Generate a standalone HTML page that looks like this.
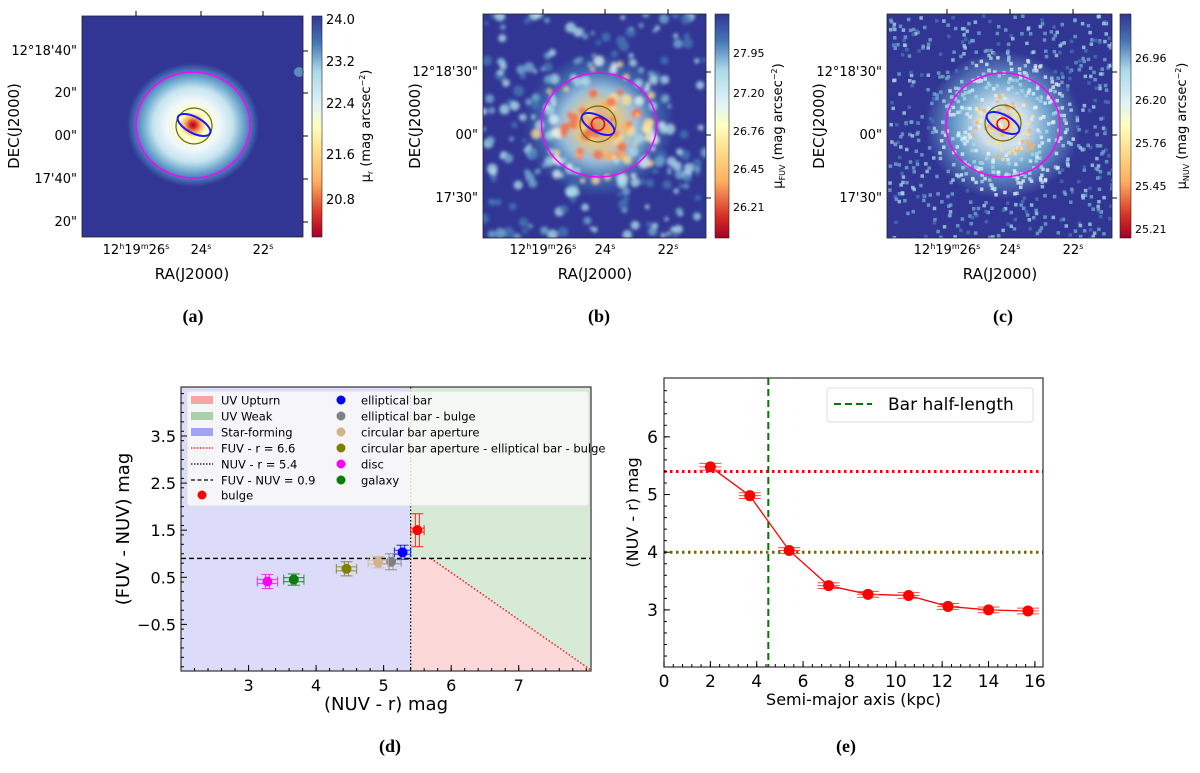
<!DOCTYPE html>
<html><head><meta charset="utf-8"><style>
body{margin:0;background:#fff;width:1200px;height:768px;overflow:hidden}
svg text{font-family:"DejaVu Sans","Liberation Sans",sans-serif;fill:#000}
.cap{font-family:"Liberation Serif",serif;font-weight:bold;font-size:18px}
</style></head><body>
<svg id="fig" width="1200" height="768" viewBox="0 0 1200 768" xmlns="http://www.w3.org/2000/svg">
<defs>
<radialGradient id="ga" cx="0.5" cy="0.5" r="0.5">
<stop offset="0" stop-color="#a50026"/><stop offset="0.05" stop-color="#d73027"/><stop offset="0.12" stop-color="#fdae61"/><stop offset="0.2" stop-color="#ffffbf"/><stop offset="0.4" stop-color="#f0f8fb"/><stop offset="0.6" stop-color="#c6e4ef"/><stop offset="0.75" stop-color="#74add1"/><stop offset="0.88" stop-color="#4575b4"/><stop offset="1" stop-color="#313695"/></radialGradient>
<radialGradient id="gb" cx="0.5" cy="0.5" r="0.5">
<stop offset="0" stop-color="#fdae61"/><stop offset="0.3" stop-color="#fee090"/><stop offset="0.5" stop-color="#abd9e9"/><stop offset="0.75" stop-color="#4575b4"/><stop offset="1" stop-color="#313695"/></radialGradient>
<radialGradient id="gc" cx="0.5" cy="0.5" r="0.5">
<stop offset="0" stop-color="#fee090"/><stop offset="0.3" stop-color="#e0f3f8"/><stop offset="0.6" stop-color="#74add1"/><stop offset="1" stop-color="#313695"/></radialGradient>
<linearGradient id="cb" x1="0" y1="1" x2="0" y2="0">
<stop offset="0" stop-color="#a50026"/><stop offset="0.1" stop-color="#d73027"/><stop offset="0.25" stop-color="#fdae61"/><stop offset="0.4" stop-color="#fee090"/><stop offset="0.5" stop-color="#ffffbf"/><stop offset="0.6" stop-color="#e0f3f8"/><stop offset="0.75" stop-color="#abd9e9"/><stop offset="0.88" stop-color="#4575b4"/><stop offset="1" stop-color="#313695"/></linearGradient>
<clipPath id="cpb"><rect x="483" y="14" width="223" height="224"/></clipPath>
<clipPath id="cpc"><rect x="887" y="14" width="225" height="224"/></clipPath>
<filter id="bl"><feGaussianBlur stdDeviation="1.6"/></filter>
</defs>

<!-- Panel a -->
<g>
<rect x="82" y="16" width="221" height="221" fill="#313695"/>
<ellipse cx="193" cy="125" rx="66" ry="62" fill="url(#ga)"/>
<circle cx="299" cy="72" r="5" fill="#74add1" opacity="0.7"/>
<ellipse cx="193" cy="125" rx="57" ry="53" fill="none" stroke="#ff00ff" stroke-width="1.5"/>
<circle cx="194" cy="126" r="18" fill="none" stroke="#6b6b00" stroke-width="1.2"/>
<ellipse cx="194" cy="125" rx="18" ry="8" transform="rotate(28 194 125)" fill="none" stroke="#1a1aff" stroke-width="2"/>
<rect x="82" y="16" width="221" height="221" fill="none" stroke="#222" stroke-width="0.8"/>
<g stroke="#000" stroke-width="1">
<line x1="136" y1="16" x2="136" y2="11"/><line x1="201" y1="16" x2="201" y2="11"/><line x1="263" y1="16" x2="263" y2="11"/>
<line x1="303" y1="51" x2="308" y2="51"/><line x1="303" y1="93" x2="308" y2="93"/><line x1="303" y1="136" x2="308" y2="136"/><line x1="303" y1="179" x2="308" y2="179"/><line x1="303" y1="222" x2="308" y2="222"/>
</g>
<rect x="312" y="16" width="10" height="221" fill="url(#cb)" stroke="#222" stroke-width="0.6"/>
<g font-size="13">
<text x="326" y="24">24.0</text><text x="326" y="66">23.2</text><text x="326" y="108">22.4</text><text x="326" y="159">21.6</text><text x="326" y="204">20.8</text>
<text x="77" y="55" text-anchor="end">12°18'40"</text><text x="77" y="97" text-anchor="end">20"</text><text x="77" y="140" text-anchor="end">00"</text><text x="77" y="183" text-anchor="end">17'40"</text><text x="77" y="226" text-anchor="end">20"</text>
<text x="136" y="254" text-anchor="middle">12<tspan font-size="8" dy="-5">h</tspan><tspan dy="5">19</tspan><tspan font-size="8" dy="-5">m</tspan><tspan dy="5">26</tspan><tspan font-size="8" dy="-5">s</tspan></text>
<text x="201" y="254" text-anchor="middle">24<tspan font-size="8" dy="-5">s</tspan></text>
<text x="263" y="254" text-anchor="middle">22<tspan font-size="8" dy="-5">s</tspan></text>
</g>
<text x="192" y="279" font-size="15" text-anchor="middle">RA(J2000)</text>
<text transform="translate(19 126) rotate(-90)" font-size="15" text-anchor="middle">DEC(J2000)</text>
<text transform="translate(370 126) rotate(-90)" font-size="13" text-anchor="middle">μ<tspan font-size="8" dy="3">r</tspan><tspan dy="-3"> (mag arcsec</tspan><tspan font-size="8" dy="-5">−2</tspan><tspan dy="5">)</tspan></text>
<text class="cap" x="193" y="322" text-anchor="middle">(a)</text>
</g>

<!-- Panel b -->
<g>
<rect x="483" y="14" width="223" height="224" fill="#313695"/>
<g clip-path="url(#cpb)"><g id="noiseb" filter="url(#bl)"></g></g>
<ellipse cx="599" cy="125" rx="57.5" ry="52" fill="none" stroke="#ff00ff" stroke-width="1.5"/>
<circle cx="598" cy="124" r="18" fill="none" stroke="#6b6b00" stroke-width="1.2"/>
<ellipse cx="598" cy="124" rx="18" ry="8" transform="rotate(28 598 124)" fill="none" stroke="#1a1aff" stroke-width="2"/>
<circle cx="598" cy="124" r="6.5" fill="none" stroke="#e00" stroke-width="1.5"/>
<rect x="483" y="14" width="223" height="224" fill="none" stroke="#222" stroke-width="0.8"/>
<g stroke="#000" stroke-width="1">
<line x1="543" y1="14" x2="543" y2="9"/><line x1="605" y1="14" x2="605" y2="9"/><line x1="668" y1="14" x2="668" y2="9"/>
<line x1="706" y1="72" x2="711" y2="72"/><line x1="706" y1="135" x2="711" y2="135"/><line x1="706" y1="198" x2="711" y2="198"/>
</g>
<rect x="715" y="14" width="14" height="224" fill="url(#cb)" stroke="#222" stroke-width="0.6"/>
<g font-size="11">
<text x="733" y="57">27.95</text><text x="733" y="97">27.20</text><text x="733" y="135">26.76</text><text x="733" y="173">26.45</text><text x="733" y="211">26.21</text>
</g>
<g font-size="13">
<text x="478" y="76" text-anchor="end">12°18'30"</text><text x="478" y="139" text-anchor="end">00"</text><text x="478" y="202" text-anchor="end">17'30"</text>
<text x="543" y="254" text-anchor="middle">12<tspan font-size="8" dy="-5">h</tspan><tspan dy="5">19</tspan><tspan font-size="8" dy="-5">m</tspan><tspan dy="5">26</tspan><tspan font-size="8" dy="-5">s</tspan></text>
<text x="605" y="254" text-anchor="middle">24<tspan font-size="8" dy="-5">s</tspan></text>
<text x="668" y="254" text-anchor="middle">22<tspan font-size="8" dy="-5">s</tspan></text>
</g>
<text x="595" y="279" font-size="15" text-anchor="middle">RA(J2000)</text>
<text transform="translate(420 126) rotate(-90)" font-size="15" text-anchor="middle">DEC(J2000)</text>
<text transform="translate(782 126) rotate(-90)" font-size="13" text-anchor="middle">μ<tspan font-size="8" dy="3">FUV</tspan><tspan dy="-3"> (mag arcsec</tspan><tspan font-size="8" dy="-5">−2</tspan><tspan dy="5">)</tspan></text>
<text class="cap" x="599" y="322" text-anchor="middle">(b)</text>
</g>

<!-- Panel c -->
<g>
<rect x="887" y="14" width="225" height="224" fill="#313695"/>
<g clip-path="url(#cpc)" id="noisec"></g>
<ellipse cx="1003" cy="125" rx="57" ry="52" fill="none" stroke="#ff00ff" stroke-width="1.5"/>
<circle cx="1003" cy="123" r="18" fill="none" stroke="#6b6b00" stroke-width="1.2"/>
<ellipse cx="1003" cy="123" rx="18" ry="8" transform="rotate(28 1003 123)" fill="none" stroke="#1a1aff" stroke-width="2"/>
<circle cx="1003" cy="124" r="6" fill="none" stroke="#e00" stroke-width="1.5"/>
<rect x="887" y="14" width="225" height="224" fill="none" stroke="#222" stroke-width="0.8"/>
<g stroke="#000" stroke-width="1">
<line x1="947" y1="14" x2="947" y2="9"/><line x1="1010" y1="14" x2="1010" y2="9"/><line x1="1073" y1="14" x2="1073" y2="9"/>
<line x1="1112" y1="72" x2="1117" y2="72"/><line x1="1112" y1="135" x2="1117" y2="135"/><line x1="1112" y1="198" x2="1117" y2="198"/>
</g>
<rect x="1120" y="14" width="11" height="224" fill="url(#cb)" stroke="#222" stroke-width="0.6"/>
<g font-size="11">
<text x="1135" y="62">26.96</text><text x="1135" y="104">26.20</text><text x="1135" y="147">25.76</text><text x="1135" y="190">25.45</text><text x="1135" y="233">25.21</text>
</g>
<g font-size="13">
<text x="882" y="76" text-anchor="end">12°18'30"</text><text x="882" y="139" text-anchor="end">00"</text><text x="882" y="202" text-anchor="end">17'30"</text>
<text x="947" y="254" text-anchor="middle">12<tspan font-size="8" dy="-5">h</tspan><tspan dy="5">19</tspan><tspan font-size="8" dy="-5">m</tspan><tspan dy="5">26</tspan><tspan font-size="8" dy="-5">s</tspan></text>
<text x="1010" y="254" text-anchor="middle">24<tspan font-size="8" dy="-5">s</tspan></text>
<text x="1073" y="254" text-anchor="middle">22<tspan font-size="8" dy="-5">s</tspan></text>
</g>
<text x="1000" y="279" font-size="15" text-anchor="middle">RA(J2000)</text>
<text transform="translate(824 126) rotate(-90)" font-size="15" text-anchor="middle">DEC(J2000)</text>
<text transform="translate(1186 126) rotate(-90)" font-size="13" text-anchor="middle">μ<tspan font-size="8" dy="3">NUV</tspan><tspan dy="-3"> (mag arcsec</tspan><tspan font-size="8" dy="-5">−2</tspan><tspan dy="5">)</tspan></text>
<text class="cap" x="1003" y="322" text-anchor="middle">(c)</text>
</g>

<g id="pd"></g>
<g id="pe"></g>
<text class="cap" x="390" y="752" text-anchor="middle">(d)</text>
<text class="cap" x="846" y="752" text-anchor="middle">(e)</text>
</svg>
<script>
// Panel d data
const dNames = ["elliptical bar","elliptical bar - bulge","circular bar aperture","circular bar aperture - elliptical bar - bulge","disc","galaxy","bulge"];
const dColors = ["#0000ff","#808080","#d2b48c","#808000","#ff00ff","#008000","#ff0000"];
const dNUVr = [5.28,5.11,4.92,4.45,3.28,3.67,5.5];
const dFUVNUV = [1.03,0.83,0.82,0.68,0.41,0.45,1.5];
const dXerr = [0.12,0.15,0.15,0.15,0.15,0.15,0.1];
const dYerr = [0.15,0.17,0.12,0.15,0.15,0.12,0.35];
const dXTicks = [3,4,5,6,7];
const dYTicks = [-0.5,0.5,1.5,2.5,3.5];
const dFUVr = 6.6, dNUVrCut = 5.4, dFUVNUVCut = 0.9;
// Panel e data
const eSMA = [2,3.7,5.4,7.1,8.8,10.55,12.25,14,15.7];
const eColor = [5.48,4.98,4.03,3.42,3.27,3.25,3.06,3.0,2.98];
const eErr = [0.06,0.05,0.05,0.05,0.05,0.05,0.05,0.05,0.05];
const eXTicks = [0,2,4,6,8,10,12,14,16];
const eYTicks = [3,4,5,6];
const eBarHalf = 4.5, eLineRed = 5.4, eLineOlive = 4.0;

const NS="http://www.w3.org/2000/svg";
function mk(p,tag,at){const e=document.createElementNS(NS,tag);for(const k in at)e.setAttribute(k,at[k]);p.appendChild(e);return e;}

// noise texture for b, c (decorative)
let seed=7;function rnd(){seed=(seed*16807)%2147483647;return seed/2147483647;}
(function(){
 const gb=document.getElementById('noiseb');
 mk(gb,'ellipse',{cx:599,cy:125,rx:75,ry:72,fill:'url(#gb)',opacity:0.85});
 for(let i=0;i<450;i++){const x=483+rnd()*223,y=14+rnd()*224;const r=Math.hypot(x-599,y-125);
  let c;
  if(r<40) c=rnd()<0.55?'#f46d43':(rnd()<0.5?'#fdae61':'#fee090');
  else if(r<65) c=rnd()<0.5?'#abd9e9':(rnd()<0.4?'#fee090':'#e0f3f8');
  else { if(rnd()<0.45) continue; c=rnd()<0.4?'#74add1':(rnd()<0.5?'#4575b4':'#abd9e9'); }
  mk(gb,'circle',{cx:x,cy:y,r:2+rnd()*3.5,fill:c,opacity:0.8});}
 const gc=document.getElementById('noisec');
 mk(gc,'ellipse',{cx:1003,cy:125,rx:78,ry:74,fill:'url(#gc)',opacity:0.9});
 for(let i=0;i<1100;i++){const x=887+rnd()*225,y=14+rnd()*224;const r=Math.hypot(x-1003,y-125);
  let c;
  if(r<35) c=rnd()<0.35?'#fdae61':(rnd()<0.5?'#fee090':'#e0f3f8');
  else if(r<70) c=rnd()<0.5?'#e0f3f8':'#abd9e9';
  else { if(rnd()<0.4) continue; c=rnd()<0.5?'#74add1':(rnd()<0.5?'#4575b4':'#abd9e9'); }
  mk(gc,'rect',{x:x,y:y,width:3.5,height:3.5,fill:c,opacity:0.75});}
})();

// Panel d
(function(){
 const g=document.getElementById('pd');
 const L=181,R=591,T=387,B=671,x0=2.0,x1=8.07,y0=-1.49,y1=4.54;
 const X=v=>L+(v-x0)/(x1-x0)*(R-L), Y=v=>B-(v-y0)/(y1-y0)*(B-T);
 let r;
 r=mk(g,'rect',{x:L,y:T,width:X(dNUVrCut)-L,height:B-T,fill:'#dcdcfa'});
 
 r=mk(g,'rect',{x:X(dNUVrCut),y:T,width:R-X(dNUVrCut),height:B-T,fill:'#d6ead6'});
 
 const xa=dFUVr-dFUVNUVCut, xb=x1, yb=dFUVr-x1;
 r=mk(g,'polygon',{points:`${X(dNUVrCut)},${Y(dFUVNUVCut)} ${X(xa)},${Y(dFUVNUVCut)} ${X(xb)},${Y(yb)} ${X(xb)},${B} ${X(dNUVrCut)},${B}`,fill:'#fdd8d8'});
 
 r=mk(g,'line',{x1:X(xa),y1:Y(dFUVNUVCut),x2:X(xb),y2:Y(yb),stroke:'#ff0000','stroke-width':1.3,'stroke-dasharray':'1.5 2'});
 
 r=mk(g,'line',{x1:X(dNUVrCut),y1:T,x2:X(dNUVrCut),y2:B,stroke:'#000','stroke-width':1.2,'stroke-dasharray':'1.5 2'});
 
 r=mk(g,'line',{x1:L,y1:Y(dFUVNUVCut),x2:R,y2:Y(dFUVNUVCut),stroke:'#000','stroke-width':1.3,'stroke-dasharray':'5 3'});
 
 for(let i=0;i<dNames.length;i++){
  const gg=mk(g,'g',{});
  
  
  const cx=X(dNUVr[i]),cy=Y(dFUVNUV[i]),c=dColors[i],op=0.7;
  const x1p=X(dNUVr[i]-dXerr[i]),x2p=X(dNUVr[i]+dXerr[i]),y1p=Y(dFUVNUV[i]-dYerr[i]),y2p=Y(dFUVNUV[i]+dYerr[i]);
  [[x1p,cy-2,x2p,cy-2],[x1p,cy+2,x2p,cy+2],[cx-2,y1p,cx-2,y2p],[cx+2,y1p,cx+2,y2p],[x1p,cy-5,x1p,cy+5],[x2p,cy-5,x2p,cy+5],[cx-6,y1p,cx+6,y1p],[cx-6,y2p,cx+6,y2p]].forEach(s=>mk(gg,'line',{x1:s[0],y1:s[1],x2:s[2],y2:s[3],stroke:c,'stroke-width':1.2,opacity:op}));
  mk(gg,'circle',{cx:cx,cy:cy,r:5,fill:c});
 }
 // legend
 const lg=mk(g,'g',{});
 
 mk(lg,'rect',{x:187,y:391,width:402,height:115,rx:3,fill:'#fafafa',opacity:0.85,stroke:'#ddd'});
 const rows=[400,416,432,448,464,480,495];
 const patches=['#f5a3a3','#a7d2a7','#a3a3f5'];
 const ltxt=['UV Upturn','UV Weak','Star-forming','FUV - r = 6.6','NUV - r = 5.4','FUV - NUV = 0.9','bulge'];
 for(let i=0;i<7;i++){
  const y=rows[i];
  if(i<3) mk(lg,'rect',{x:191,y:y-4,width:22,height:8,fill:patches[i]});
  else if(i===3) mk(lg,'line',{x1:191,y1:y,x2:213,y2:y,stroke:'#f00','stroke-width':1.2,'stroke-dasharray':'1.5 1.5'});
  else if(i===4) mk(lg,'line',{x1:191,y1:y,x2:213,y2:y,stroke:'#000','stroke-width':1.2,'stroke-dasharray':'1.5 1.5'});
  else if(i===5) mk(lg,'line',{x1:191,y1:y,x2:213,y2:y,stroke:'#000','stroke-width':1.3,'stroke-dasharray':'4 2.5'});
  else mk(lg,'circle',{cx:202,cy:y,r:4.5,fill:'#f00'});
  const t=mk(lg,'text',{x:221,y:y+4.5,'font-size':11.5});t.textContent=ltxt[i];
 }
 for(let i=0;i<6;i++){
  const y=rows[i];
  mk(lg,'circle',{cx:341,cy:y,r:4.5,fill:dColors[i]});
  const t=mk(lg,'text',{x:361,y:y+4.5,'font-size':11.5});t.textContent=dNames[i];
 }
 mk(g,'rect',{x:L,y:T,width:R-L,height:B-T,fill:'none',stroke:'#333','stroke-width':1.2});
 dXTicks.forEach(v=>{mk(g,'line',{x1:X(v),y1:B,x2:X(v),y2:B-6,stroke:'#000'});const t=mk(g,'text',{x:X(v),y:B+20,'font-size':16,'text-anchor':'middle'});t.textContent=v;});
 for(let v=2.2;v<8.05;v+=0.2){mk(g,'line',{x1:X(v),y1:B,x2:X(v),y2:B-3,stroke:'#000'});}
 dYTicks.forEach(v=>{mk(g,'line',{x1:L,y1:Y(v),x2:L+6,y2:Y(v),stroke:'#000'});const t=mk(g,'text',{x:L-5,y:Y(v)+6,'font-size':16,'text-anchor':'end'});t.textContent=v<0?'−'+(-v):v;});
 for(let v=-1.4;v<4.5;v+=0.2){mk(g,'line',{x1:L,y1:Y(v),x2:L+3,y2:Y(v),stroke:'#000'});}
 let t=mk(g,'text',{x:(L+R)/2,y:710,'font-size':18,'text-anchor':'middle'});t.textContent='(NUV - r) mag';
 
 t=mk(g,'text',{transform:`translate(129 ${(T+B)/2}) rotate(-90)`,'font-size':18,'text-anchor':'middle'});t.textContent='(FUV - NUV) mag';
 
})();

// Panel e
(function(){
 const g=document.getElementById('pe');
 const L=664,R=1043,T=378,B=667,x0=0,x1=16.35,y0=2.01,y1=7.02;
 const X=v=>L+(v-x0)/(x1-x0)*(R-L), Y=v=>B-(v-y0)/(y1-y0)*(B-T);
 let r=mk(g,'line',{x1:L,y1:Y(eLineRed),x2:R,y2:Y(eLineRed),stroke:'#ff0000','stroke-width':3,'stroke-dasharray':'2.5 3.5'});
 
 r=mk(g,'line',{x1:L,y1:Y(eLineOlive),x2:R,y2:Y(eLineOlive),stroke:'#6b6b00','stroke-width':3,'stroke-dasharray':'2.5 3.5'});
 
 r=mk(g,'line',{x1:X(eBarHalf),y1:T,x2:X(eBarHalf),y2:B,stroke:'#007a00','stroke-width':2,'stroke-dasharray':'7 4'});
 
 r=mk(g,'polyline',{points:eSMA.map((v,i)=>X(v)+','+Y(eColor[i])).join(' '),fill:'none',stroke:'#ff0000','stroke-width':1.3});
 
 eSMA.forEach((v,i)=>{
  const cx=X(v),cy=Y(eColor[i]);
  const gg=mk(g,'g',{});
  
  mk(gg,'line',{x1:cx-11,y1:cy,x2:cx+11,y2:cy,stroke:'#f44','stroke-width':1});
  mk(gg,'line',{x1:cx-11,y1:Y(eColor[i]+eErr[i]),x2:cx+11,y2:Y(eColor[i]+eErr[i]),stroke:'#f44','stroke-width':1});
  mk(gg,'line',{x1:cx-11,y1:Y(eColor[i]-eErr[i]),x2:cx+11,y2:Y(eColor[i]-eErr[i]),stroke:'#f44','stroke-width':1});
  mk(gg,'circle',{cx:cx,cy:cy,r:5.5,fill:'#ff0000'});
 });
 mk(g,'rect',{x:L,y:T,width:R-L,height:B-T,fill:'none',stroke:'#333','stroke-width':1.2});
 eXTicks.forEach(v=>{mk(g,'line',{x1:X(v),y1:B,x2:X(v),y2:B-6,stroke:'#000'});const t=mk(g,'text',{x:X(v),y:B+20,'font-size':17,'text-anchor':'middle'});t.textContent=v;});
 for(let v=0.4;v<16.3;v+=0.4){mk(g,'line',{x1:X(v),y1:B,x2:X(v),y2:B-3,stroke:'#000'});}
 eYTicks.forEach(v=>{mk(g,'line',{x1:L,y1:Y(v),x2:L+6,y2:Y(v),stroke:'#000'});const t=mk(g,'text',{x:L-6,y:Y(v)+6,'font-size':17,'text-anchor':'end'});t.textContent=v;});
 for(let v=2.2;v<7;v+=0.2){mk(g,'line',{x1:L,y1:Y(v),x2:L+3,y2:Y(v),stroke:'#000'});}
 const lg=mk(g,'g',{});
 
 mk(lg,'rect',{x:827,y:388,width:206,height:34,rx:3,fill:'#fff',stroke:'#ddd'});
 mk(lg,'line',{x1:834,y1:404,x2:872,y2:404,stroke:'#007a00','stroke-width':2,'stroke-dasharray':'7 4'});
 let t=mk(lg,'text',{x:888,y:410,'font-size':17});t.textContent='Bar half-length';
 t=mk(g,'text',{x:(L+R)/2,y:705,'font-size':16,'text-anchor':'middle'});t.textContent='Semi-major axis (kpc)';
 
 t=mk(g,'text',{transform:`translate(638 ${(T+B)/2-10}) rotate(-90)`,'font-size':16,'text-anchor':'middle'});t.textContent='(NUV - r) mag';
 
})();
</script>
</body></html>
